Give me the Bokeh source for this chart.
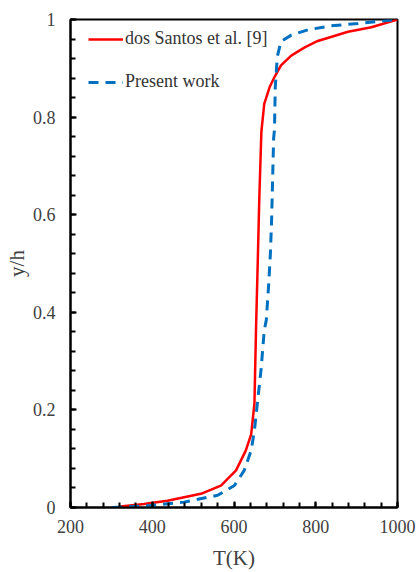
from bokeh.plotting import figure
from bokeh.models import Range1d, SingleIntervalTicker, CustomJSTickFormatter, Legend, LegendItem
from bokeh.embed import file_html
from bokeh.resources import INLINE

# Data
T_santos = [322, 380, 437, 519, 568, 605, 629, 642, 650, 654, 658, 662, 667, 674, 687, 699, 715, 740, 773, 805, 879, 936, 1000]
y_santos = [0.002, 0.007, 0.014, 0.028, 0.045, 0.076, 0.117, 0.150, 0.213, 0.370, 0.500, 0.637, 0.770, 0.827, 0.861, 0.882, 0.906, 0.926, 0.943, 0.956, 0.975, 0.984, 1.0]

T_present = [302, 396, 478, 560, 601, 625, 642, 650, 658, 666, 674, 679, 685, 689, 692, 695, 697, 699, 701, 706, 715, 740, 781, 838, 904, 1000]
y_present = [0.0, 0.004, 0.011, 0.025, 0.045, 0.076, 0.117, 0.158, 0.220, 0.281, 0.363, 0.384, 0.459, 0.520, 0.589, 0.691, 0.757, 0.774, 0.862, 0.924, 0.955, 0.968, 0.979, 0.987, 0.992, 1.0]

label_santos = "dos Santos et al. [9]"
label_present = "Present work"
x_title = "T(K)"
y_title = "y/h"

FONT = "Liberation Serif"

p = figure(width=416, height=572, output_backend="svg", toolbar_location=None,
           x_range=Range1d(200, 1000), y_range=Range1d(0, 1),
           min_border_left=70, min_border_right=19, min_border_top=19, min_border_bottom=65)
p.xgrid.visible = False
p.ygrid.visible = False
p.outline_line_color = "black"
p.outline_line_width = 2
p.background_fill_color = "white"
p.border_fill_color = "white"

r1 = p.line(T_santos, y_santos, line_color="#FF0000", line_width=2.5)
r2 = p.line(T_present, y_present, line_color="#0070C0", line_width=3, line_dash="10 7")

fmt = CustomJSTickFormatter(code="return String(Number(tick.toFixed(2)));")
p.xaxis.ticker = SingleIntervalTicker(interval=200, num_minor_ticks=5)
p.yaxis.ticker = SingleIntervalTicker(interval=0.2, num_minor_ticks=5)
p.yaxis.formatter = fmt
p.xaxis.formatter = fmt

for ax in (p.xaxis, p.yaxis):
    ax.axis_line_color = "black"
    ax.axis_line_width = 2
    ax.major_tick_line_color = "black"
    ax.minor_tick_line_color = "black"
    ax.major_tick_line_width = 2
    ax.minor_tick_line_width = 2
    ax.major_tick_in = 6
    ax.major_tick_out = 0
    ax.minor_tick_in = 5
    ax.minor_tick_out = 0
    ax.major_label_text_font = FONT
    ax.major_label_text_font_size = "18px"
    ax.major_label_text_color = "#404040"
    ax.axis_label_text_font = FONT
    ax.axis_label_text_color = "#404040"

p.xaxis.axis_label = x_title
p.xaxis.axis_label_text_font_size = "21px"
p.xaxis.axis_label_text_font_style = "normal"
p.xaxis.major_label_standoff = 12
p.xaxis.axis_label_standoff = 10

p.yaxis.axis_label = y_title
p.yaxis.axis_label_text_font_size = "21px"
p.yaxis.axis_label_text_font_style = "normal"
p.yaxis.major_label_standoff = 15
p.yaxis.axis_label_standoff = 1

legend = Legend(items=[LegendItem(label=label_santos, renderers=[r1]),
                       LegendItem(label=label_present, renderers=[r2])],
                location=(18, 415), margin=0, padding=0, spacing=22,
                glyph_width=35, glyph_height=20, label_height=20, label_standoff=2,
                label_text_font=FONT, label_text_font_size="18px", label_text_color="#333333",
                border_line_color=None, background_fill_alpha=0)
p.add_layout(legend)

open("out.html", "w").write(file_html(p, INLINE))
